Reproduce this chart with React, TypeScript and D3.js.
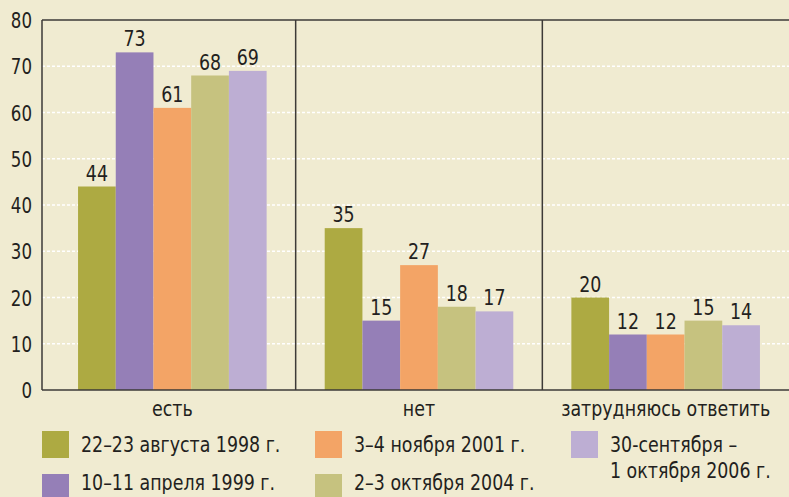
import React, { useEffect, useRef } from 'react';
import * as d3 from 'd3';

const categories = ['есть', 'нет', 'затрудняюсь ответить'];
const seriesNames = [
  '22–23 августа 1998 г.',
  '10–11 апреля 1999 г.',
  '3–4 ноября 2001 г.',
  '2–3 октября 2004 г.',
  '30-сентября –\n1 октября 2006 г.',
];
const seriesColors = ['#adaa42', '#957fb7', '#f3a466', '#c6c27f', '#bdaed3'];
const values1998 = [44, 35, 20];
const values1999 = [73, 15, 12];
const values2001 = [61, 27, 12];
const values2004 = [68, 18, 15];
const values2006 = [69, 17, 14];
const yTicks = [0, 10, 20, 30, 40, 50, 60, 70, 80];

const allSeries = [values1998, values1999, values2001, values2004, values2006];

const W = 789;
const H = 497;
const FONT = '"DejaVu Sans Condensed", "DejaVu Sans", sans-serif';
const INK = '#231f20';
const SX = 0.88; // squeeze to mimic a condensed face

type Sel = d3.Selection<any, any, any, any>;

// text squeezed horizontally around its anchor point
function addText(parent: Sel, x: number, y: number, str: string, size: number, anchor = 'start', lineGap = 26) {
  const t = parent.append('text')
    .attr('transform', `translate(${x},${y}) scale(${SX},1)`)
    .attr('text-anchor', anchor)
    .attr('font-family', FONT)
    .attr('font-size', size)
    .attr('fill', INK);
  str.split('\n').forEach((line, i) => {
    t.append('tspan').attr('x', 0).attr('dy', i === 0 ? 0 : lineGap).text(line);
  });
  return t;
}

const App: React.FC = () => {
  const svgRef = useRef<SVGSVGElement>(null);

  useEffect(() => {
    if (!svgRef.current) return;
    const svg = d3.select(svgRef.current);
    svg.selectAll('*').remove();

    const axisX = 42;
    const top = 20;
    const bottom = 390;

    const y = d3.scaleLinear().domain([0, 80]).range([bottom, top]);
    const x0 = d3.scaleBand<string>().domain(categories).range([49, 789]);
    const x1 = d3.scaleBand<number>()
      .domain(d3.range(allSeries.length))
      .range([0, x0.bandwidth()])
      .paddingOuter(0.77);

    svg.append('rect').attr('width', W).attr('height', H).attr('fill', '#f0ebd1');

    // gridlines
    svg.append('g')
      .selectAll('line')
      .data(yTicks.filter(t => t > 0 && t < 80))
      .join('line')
      .attr('x1', axisX)
      .attr('x2', W)
      .attr('y1', d => y(d))
      .attr('y2', d => y(d))
      .attr('stroke', '#ffffff')
      .attr('stroke-width', 1.5)
      .attr('stroke-dasharray', '3,2');

    // bars + value labels
    categories.forEach((cat, ci) => {
      const g = svg.append('g').attr('transform', `translate(${x0(cat)},0)`);
      allSeries.forEach((vals, si) => {
        const v = vals[ci];
        g.append('rect')
          .attr('x', x1(si)!)
          .attr('y', y(v))
          .attr('width', x1.bandwidth())
          .attr('height', bottom - y(v))
          .attr('fill', seriesColors[si]);
        addText(g, x1(si)! + x1.bandwidth() / 2, y(v) - 6, String(v), 22, 'middle');
      });
    });

    // frame lines
    const lineColor = '#3d3a37';
    const frame = svg.append('g').attr('stroke', lineColor).attr('stroke-width', 1.5);
    frame.append('line').attr('x1', axisX).attr('x2', W).attr('y1', top).attr('y2', top);
    frame.append('line').attr('x1', axisX).attr('x2', W).attr('y1', bottom).attr('y2', bottom);
    frame.append('line').attr('x1', axisX).attr('x2', axisX).attr('y1', top).attr('y2', bottom);
    categories.slice(1).forEach(c => {
      frame.append('line').attr('x1', x0(c)!).attr('x2', x0(c)!).attr('y1', top).attr('y2', bottom);
    });

    // y tick labels
    const yl = svg.append('g');
    yTicks.forEach(t => addText(yl, 32, y(t) + 8, String(t), 21, 'end'));

    // category labels
    const cl = svg.append('g');
    categories.forEach(c => addText(cl, x0(c)! + x0.bandwidth() / 2, 416, c, 22, 'middle'));

    // legend
    const legendPos = [
      { x: 42, y: 431, base: 452 },
      { x: 42, y: 474, base: 490 },
      { x: 315, y: 431, base: 452 },
      { x: 315, y: 474, base: 490 },
      { x: 571, y: 431, base: 452 },
    ];
    const lg = svg.append('g');
    seriesNames.forEach((name, i) => {
      const p = legendPos[i];
      lg.append('rect')
        .attr('x', p.x)
        .attr('y', p.y)
        .attr('width', 27)
        .attr('height', 27)
        .attr('fill', seriesColors[i]);
      addText(lg, p.x + 39, p.base, name, 22, 'start', 26);
    });
  }, []);

  return (
    <svg
      ref={svgRef}
      width={W}
      height={H}
      style={{ position: 'absolute', left: 0, top: 0, display: 'block' }}
    />
  );
};

export default App;
